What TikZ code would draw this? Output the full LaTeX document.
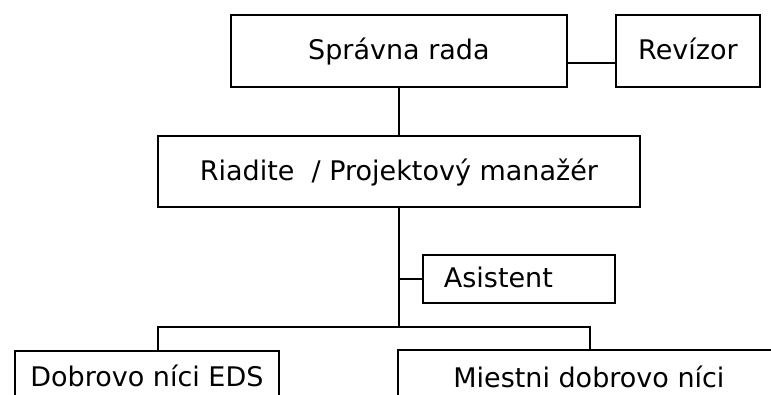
\documentclass[tikz,border=0pt]{standalone}
\usepackage{fontspec}
\setmainfont{DejaVu Sans}
\usetikzlibrary{positioning}

\begin{document}
\begin{tikzpicture}[
x=1pt, y=-1pt,
box/.style={
	draw, rectangle, line width=1.8pt,
	anchor=north west, inner sep=0pt,
	font=\fontsize{27}{30}\selectfont,
	text height=20pt, text depth=2pt
},
leftbox/.style={box, inner xsep=21pt, align=left},
link/.style={line width=1.8pt}
]
\useasboundingbox (0,0) rectangle (771,394);
\clip (0,0) rectangle (771,394);
% top level
\node[box, minimum width=336pt, minimum height=72pt] (rada) at (230,14) {Správna rada};
\node[box, minimum width=144pt, minimum height=72pt] (revizor) at (615,14) {Revízor};
\node[box, minimum width=482pt, minimum height=71pt] (riaditel) at (157,135) {Riadite\ \ / Projektový manažér};
\node[leftbox, text width=150pt, minimum height=48pt] (asistent) at (422,254) {Asistent};
% bottom, cut off by the page
\node[box, minimum width=264pt, minimum height=54pt] (dobro) at (14,350) {Dobrovo níci EDS};
\node[box, minimum width=382pt, minimum height=58pt] (miestni) at (397,349) {Miestni dobrovo níci};
\coordinate (busL) at (158,327);
\coordinate (busR) at (590,327);
% connectors
\draw[link] ([yshift=-12pt]rada.east) -- ([yshift=-12pt]revizor.west);
\draw[link] (rada.south) -- (riaditel.north);
\draw[link] (riaditel.south) -- (riaditel.south |- busL);
\draw[link] (asistent.west) -- (asistent.west -| riaditel.south);
\draw[link] (busL |- dobro.north) -- (busL) -- (busR) -- (busR |- miestni.north);
\end{tikzpicture}
\end{document}
